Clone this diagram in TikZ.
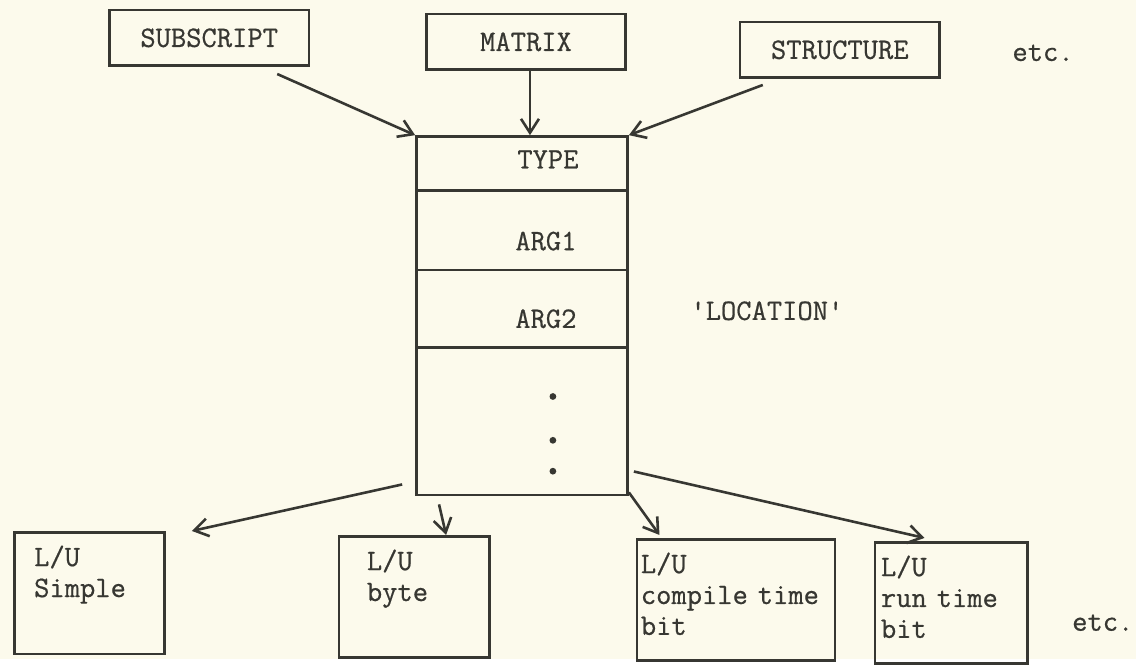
\documentclass[tikz,border=0pt]{standalone}
\usepackage{fontspec}
\usepackage{xcolor}
\usepackage{tikz}
\usetikzlibrary{arrows.meta, positioning}
\newfontfamily\typew{Latin Modern Mono}[FakeBold=0.6]
\definecolor{paper}{RGB}{252,250,236}
\definecolor{ink}{RGB}{55,55,50}

\begin{document}
\begin{tikzpicture}[
    x=0.5pt, y=-0.5pt,
    every node/.style={font=\typew\fontsize{14.9pt}{15.5pt}\selectfont, text=ink},
    topbox/.style={draw=ink, line width=1.3pt, minimum width=100pt,
                   minimum height=28pt, inner sep=0pt},
    cell/.style={inner sep=0pt},
    lubox/.style={draw=ink, line width=1.3pt, align=left, anchor=north west,
                  inner ysep=4pt, text height=13pt, text depth=40pt},
    arr/.style={-{Straight Barb[length=7pt, width=9pt]}, line width=1.3pt, draw=ink}
]
% --- papel ---
\fill[paper] (0,0) rectangle (1140,662);

% --- Fila 1: tipos ---
\node[topbox] (subscript) at (210,38) {SUBSCRIPT};
\node[topbox] (matrix) at (528,42) {MATRIX};
\node[topbox] (structure) at (843,50) {STRUCTURE};
\node (etctop) at (1047,53) {etc.};

% --- LOCATION ---
\node[draw=ink, line width=1.3pt, minimum width=106pt, minimum height=180pt,
      inner sep=0pt] (loc) at (524,317) {};
\foreach \y in {191,271,349}
    \draw[ink, line width=1.3pt] (loc.west |- 0,\y) -- (loc.east |- 0,\y);
\node[cell] (type) at (550,160) {TYPE};
\node[cell] (argone) at (548,242) {ARG1};
\node[cell] (argtwo) at (548,320) {ARG2};
\foreach \y in {398,442,473}
    \fill[ink] (555,\y) circle (1.7pt);
\node[anchor=west] (loclabel) at (686,312) {'LOCATION'};

\draw[arr] ([shift={(-33,7)}]subscript.south east) -- (loc.north west);
\draw[arr] (matrix.south -| 532,0) -- (loc.north -| 532,0);
\draw[arr] ([shift={(24,6)}]structure.south west) -- (loc.north east);

% --- Fila 2: L/U ---
\node[lubox, text width=55.5pt, inner xsep=10pt] (simple) at (13,533) {L/U\\Simple};
\node[lubox, text width=47.5pt, inner xsep=14pt] (byte) at (339,537) {L/U\\byte};
\node[lubox, text width=95.5pt, inner xsep=2pt] (compile) at (638,540)
    {L/U\\compile time\\bit};
\node[lubox, text width=70.5pt, inner xsep=3pt] (run) at (877,543)
    {L/U\\run time\\bit};
\node (etcbot) at (1107,625) {etc.};

\draw[arr] ([shift={(-13,-12)}]loc.south west) -- ([xshift=13]simple.north east);
\draw[arr] ([shift={(24,8)}]loc.south west) -- ([xshift=16]byte.north);
\draw[arr] ([shift={(0,-4)}]loc.south east) -- ([shift={(24,-3)}]compile.north west);
\draw[arr] ([shift={(5,-25)}]loc.south east) -- ([shift={(51,-3)}]run.north west);
\end{tikzpicture}
\end{document}
